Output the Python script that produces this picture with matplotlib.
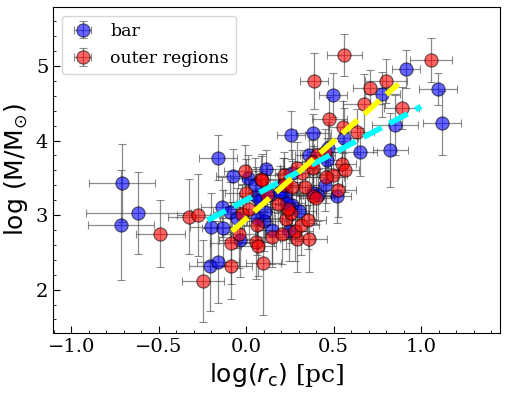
import numpy as np
import matplotlib
matplotlib.use("Agg")
import matplotlib.pyplot as plt

plt.rcParams['font.family'] = 'serif'
plt.rcParams['mathtext.fontset'] = 'dejavusans'

# bar clusters
bar_x = [0.914, 1.097, 0.777, 0.497, 1.12, 0.851, 0.257, 0.383, 0.56, 0.651,
         0.823, -0.16, -0.074, 0.114, -0.709, 0.469, 0.36, 0.01, -0.617, -0.714,
         -0.206, -0.16, -0.137, -0.2, -0.131, -0.034, 0.103, 0.149, 0.246, 0.057,
         0.223, 0.52, 0.051, 0.211, -0.091, -0.051, 0.263, 0.383, 0.137, 0.194,
         0.263, 0.463, 0.063, 0.109, 0.234, 0.08, 0.411, 0.30, 0.45]
bar_y = [4.96, 4.69, 4.62, 4.61, 4.24, 4.21, 4.07, 4.10, 4.03, 3.85,
         3.87, 3.77, 3.53, 3.62, 3.43, 3.90, 3.81, 3.50, 3.03, 2.87,
         2.32, 2.37, 3.11, 2.84, 2.83, 2.67, 2.92, 2.80, 2.79, 3.25,
         3.27, 3.25, 3.41, 3.41, 3.04, 2.96, 3.14, 3.30, 3.27, 3.31,
         3.57, 3.74, 2.96, 3.04, 3.16, 3.20, 3.27, 3.05, 3.40]
bar_xerr = [0.08, 0.11, 0.10, 0.08, 0.11, 0.13, 0.08, 0.10, 0.08, 0.10,
            0.10, 0.11, 0.10, 0.10, 0.19, 0.08, 0.08, 0.10, 0.30, 0.19,
            0.12, 0.12, 0.12, 0.12, 0.12, 0.12, 0.10, 0.10, 0.10, 0.10,
            0.10, 0.08, 0.10, 0.10, 0.10, 0.10, 0.10, 0.10, 0.10, 0.10,
            0.10, 0.08, 0.10, 0.10, 0.10, 0.10, 0.10, 0.10, 0.10]
bar_yerr = [0.25, 0.22, 0.30, 0.30, 0.43, 0.40, 0.32, 0.25, 0.40, 0.32,
            0.50, 0.30, 0.35, 0.25, 0.52, 0.35, 0.30, 0.30, 0.55, 0.74,
            0.60, 0.55, 0.40, 0.45, 0.50, 0.50, 0.40, 0.45, 0.40, 0.40,
            0.35, 0.35, 0.35, 0.35, 0.40, 0.40, 0.35, 0.35, 0.35, 0.35,
            0.30, 0.30, 0.40, 0.40, 0.35, 0.35, 0.35, 0.40, 0.35]

# outer region clusters
out_x = [0.56, 1.057, 0.389, 0.80, 0.709, 0.674, 0.891, 0.474, 0.554, 0.634,
         -0.006, 0.086, 0.291, 0.217, 0.32, 0.451, 0.406, 0.377, 0.549, 0.566,
         0.497, 0.383, -0.491, -0.326, -0.274, -0.246, -0.086, 0.097, -0.086, 0.0,
         -0.023, 0.017, 0.057, 0.069, 0.063, 0.149, 0.206, 0.291, 0.36, 0.28,
         0.314, 0.354, 0.229, 0.257, 0.12, 0.217, 0.263, 0.383, 0.526, 0.091,
         -0.04, 0.4, 0.337, 0.457, 0.24, 0.18]
out_y = [5.15, 5.08, 4.80, 4.80, 4.70, 4.49, 4.44, 4.29, 4.18, 4.12,
         3.59, 3.49, 3.63, 3.54, 3.57, 3.85, 3.81, 3.71, 3.69, 3.61,
         3.54, 3.63, 2.75, 2.98, 3.00, 2.12, 2.32, 2.36, 2.63, 3.30,
         3.02, 3.08, 2.64, 2.58, 2.87, 2.71, 2.74, 2.68, 2.68, 2.78,
         2.87, 2.94, 2.95, 3.03, 3.27, 3.41, 3.38, 3.25, 3.33, 3.47,
         2.74, 3.23, 3.37, 3.51, 3.08, 3.15]
out_xerr = [0.10, 0.12, 0.08, 0.12, 0.10, 0.12, 0.10, 0.10, 0.08, 0.10,
            0.12, 0.10, 0.10, 0.10, 0.10, 0.10, 0.10, 0.10, 0.08, 0.08,
            0.08, 0.10, 0.14, 0.12, 0.12, 0.12, 0.12, 0.10, 0.12, 0.12,
            0.12, 0.12, 0.10, 0.10, 0.10, 0.10, 0.10, 0.10, 0.10, 0.10,
            0.10, 0.10, 0.10, 0.10, 0.10, 0.10, 0.10, 0.10, 0.10, 0.10,
            0.10, 0.10, 0.10, 0.10, 0.10, 0.10]
out_yerr = [0.28, 0.30, 0.38, 0.30, 0.25, 0.40, 0.28, 0.30, 0.35, 0.30,
            0.35, 0.30, 0.35, 0.30, 0.30, 0.30, 0.30, 0.30, 0.30, 0.30,
            0.30, 0.30, 0.45, 0.50, 0.55, 0.55, 0.45, 0.70, 0.55, 0.45,
            0.40, 0.40, 0.50, 0.40, 0.40, 0.40, 0.40, 0.45, 0.45, 0.40,
            0.40, 0.40, 0.40, 0.40, 0.40, 0.35, 0.35, 0.35, 0.35, 0.35,
            0.45, 0.35, 0.35, 0.35, 0.40, 0.40]

# linear fits: slope, intercept, x-range
fit_bar = (1.25, 3.205, -0.22, 1.0)
fit_out = (2.08, 2.95, -0.08, 0.87)

fig = plt.figure(figsize=(5.06, 3.93), dpi=100)
ax = fig.add_axes([0.105, 0.153, 0.883, 0.829])

ekw = dict(fmt='o', ms=9.5, mec='k', mew=0.8, alpha=0.6, ecolor='0.25',
           elinewidth=0.9, capsize=3, capthick=0.9)
ax.errorbar(bar_x, bar_y, xerr=bar_xerr, yerr=bar_yerr, color='blue',
            label='bar', **ekw)
ax.errorbar(out_x, out_y, xerr=out_xerr, yerr=out_yerr, color='red',
            label='outer regions', **ekw)

for (m, c, x0, x1), col in [(fit_bar, 'cyan'), (fit_out, 'yellow')]:
    xx = np.linspace(x0, x1, 50)
    ax.plot(xx, m * xx + c, '--', color=col, lw=4, zorder=5)

ax.set_xlim(-1.103, 1.451)
ax.set_ylim(1.42, 5.79)
ax.set_xticks([-1.0, -0.5, 0.0, 0.5, 1.0])
ax.set_yticks([2, 3, 4, 5])
ax.minorticks_on()
ax.tick_params(which='both', direction='in', labelsize=14)
ax.tick_params(which='major', length=5)
ax.tick_params(which='minor', length=2.5)
ax.set_xlabel(r'$\log(r_{\rm c})$ [pc]', fontsize=18)
ax.set_ylabel(r'$\log\,({\rm M/M_{\odot}})$', fontsize=18)
ax.legend(loc='upper left', fontsize=12.5, handletextpad=0.8,
          handlelength=1.6, borderaxespad=0.5, labelspacing=0.6)

fig.savefig('out.png', dpi=100)
